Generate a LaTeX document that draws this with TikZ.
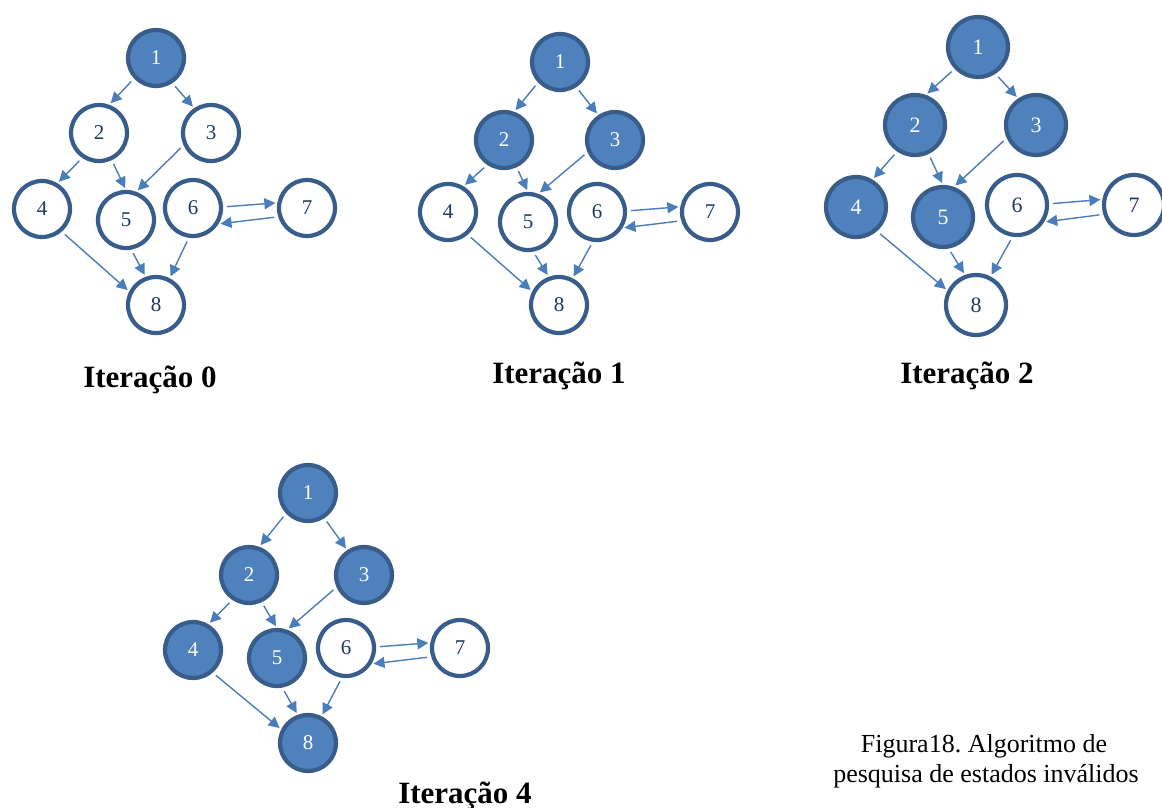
\documentclass[tikz,border=0pt]{standalone}
\usepackage{fontspec}
\setmainfont{Liberation Serif}
\usetikzlibrary{arrows.meta}
\frenchspacing

\definecolor{nodefill}{HTML}{4F81BD}
\definecolor{nodeline}{HTML}{385D8A}
\definecolor{nodetext}{HTML}{1F3864}
\definecolor{arrowc}{HTML}{4A7EBB}

\tikzset{
  state/.style={circle, draw=nodeline, line width=4.2pt, fill=white,
    minimum size=56pt, inner sep=0pt, text=nodetext,
    font=\fontsize{21}{21}\selectfont},
  visited/.style={state, fill=nodefill, text=white},
  bigstate/.style={minimum size=60pt, font=\fontsize{22}{22}\selectfont},
  edge/.style={draw=arrowc, line width=1.4pt, shorten <=4pt, shorten >=2pt,
    -{Triangle[length=11pt,width=11pt]}},
  itlabel/.style={anchor=base, font=\fontsize{31}{36}\selectfont\bfseries},
  caption/.style={anchor=base, font=\fontsize{26}{30}\selectfont}
}

% the ten transitions of one graph, nodes named <prefix>-<n>
\newcommand\graphedges[1]{%
  \draw[edge] (#1-1.223) -- (#1-2.70);
  \draw[edge] (#1-1.303) -- (#1-3.124);
  \draw[edge] (#1-2.236) -- (#1-4.59);
  \draw[edge] (#1-2.295) -- (#1-5.90);
  \draw[edge] (#1-3.204) -- (#1-5.70);
  \draw[edge] (#1-6.2)   -- (#1-7.170);
  \draw[edge] (#1-7.197) -- (#1-6.328);
  \draw[edge] (#1-4.311) -- (#1-8.153);
  \draw[edge] (#1-5.280) -- (#1-8.110);
  \draw[edge] (#1-6.262) -- (#1-8.63);
}

\begin{document}
\begin{tikzpicture}[x=1pt, y=-1pt]
\useasboundingbox (0,0) rectangle (1162,808);

% iteration 0
\node[visited] (a-1) at (156,58)  {1};
\node[state]   (a-2) at (99,133)  {2};
\node[state]   (a-3) at (211,133) {3};
\node[state]   (a-4) at (42,209)  {4};
\node[state]   (a-5) at (126,220) {5};
\node[state]   (a-6) at (193,208) {6};
\node[state]   (a-7) at (307,208) {7};
\node[state]   (a-8) at (156,305) {8};
\graphedges{a}
\node[itlabel] (la) at (150,387) {Iteração 0};

% iteration 1
\node[visited] (b-1) at (560,62)  {1};
\node[visited] (b-2) at (504,140) {2};
\node[visited] (b-3) at (615,140) {3};
\node[state]   (b-4) at (448,212) {4};
\node[state]   (b-5) at (528,222) {5};
\node[state]   (b-6) at (597,212) {6};
\node[state]   (b-7) at (710,212) {7};
\node[state]   (b-8) at (559,305) {8};
\graphedges{b}
\node[itlabel] (lb) at (559,383) {Iteração 1};

% iteration 2
\node[visited, bigstate] (c-1) at (978,47)   {1};
\node[visited, bigstate] (c-2) at (915,125)  {2};
\node[visited, bigstate] (c-3) at (1036,125) {3};
\node[visited, bigstate] (c-4) at (856,207)  {4};
\node[visited, bigstate] (c-5) at (943,217)  {5};
\node[state, bigstate]   (c-6) at (1017,205) {6};
\node[state, bigstate]   (c-7) at (1134,205) {7};
\node[state, bigstate]   (c-8) at (976,305)  {8};
\graphedges{c}
\node[itlabel] (lc) at (967,383) {Iteração 2};

% iteration 4
\node[visited] (d-1) at (308,493) {1};
\node[visited] (d-2) at (249,575) {2};
\node[visited] (d-3) at (364,575) {3};
\node[visited] (d-4) at (193,650) {4};
\node[visited] (d-5) at (277,658) {5};
\node[state]   (d-6) at (346,648) {6};
\node[state]   (d-7) at (460,648) {7};
\node[visited] (d-8) at (308,743) {8};
\graphedges{d}
\node[itlabel] (ld) at (465,803) {Iteração 4};

% figure caption
\node[caption] (cap1) at (984,752) {Figura18. Algoritmo de};
\node[caption] (cap2) at (986,782) {pesquisa de estados inválidos};
\end{tikzpicture}
\end{document}
